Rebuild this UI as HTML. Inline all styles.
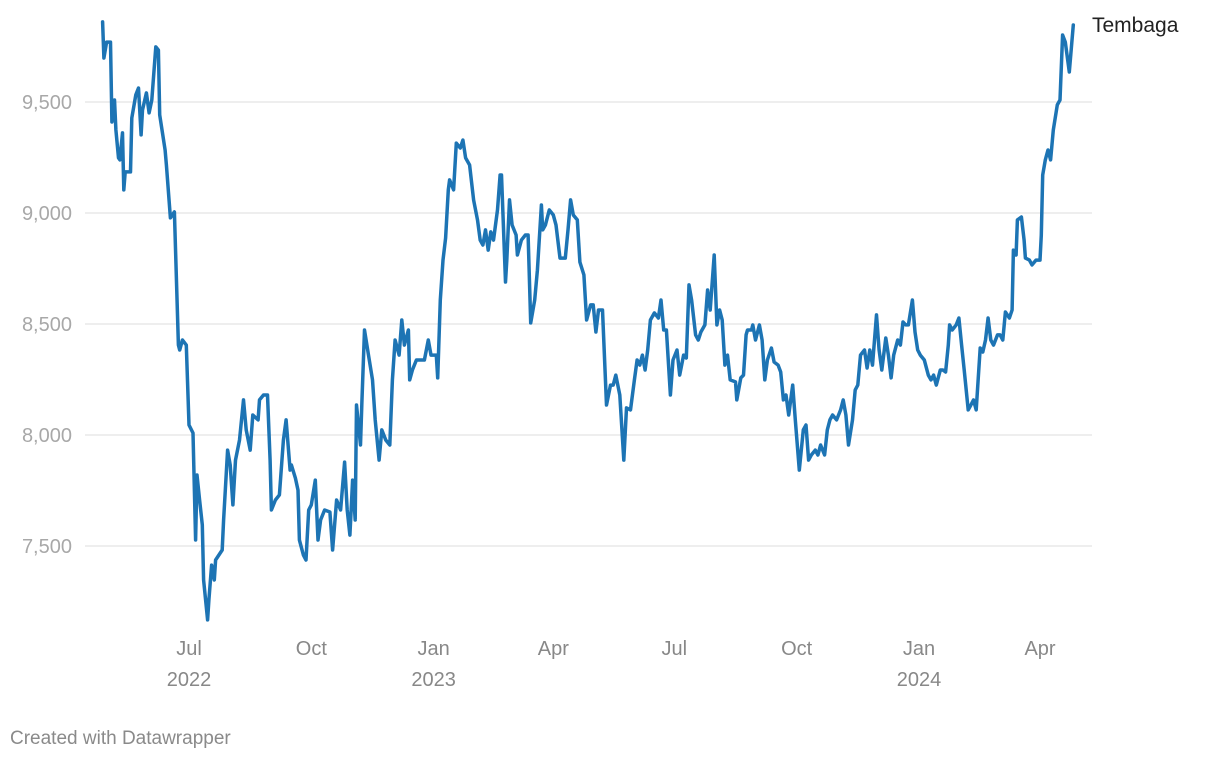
<!DOCTYPE html>
<html><head><meta charset="utf-8">
<style>
html,body{margin:0;padding:0;background:#fff;width:1220px;height:760px;overflow:hidden;font-family:"Liberation Sans",sans-serif;}
svg{display:block}
</style></head>
<body>
<svg id="chart" width="1220" height="760" xmlns="http://www.w3.org/2000/svg">
<g id="grid"></g>
<g id="yticks"></g>
<g id="xticks"></g>
<path id="line" fill="none" stroke="#1d74b4" stroke-width="3.5" stroke-linejoin="round" stroke-linecap="round"></path>
<text x="1092" y="32" font-size="21" fill="#222">Tembaga</text>
<text x="10" y="744" font-size="19" fill="#8a8a8a">Created with Datawrapper</text>
</svg>
<script>
// days since 2022-07-01
const days = [-65,-64,-62,-59,-58,-56,-55,-53,-52,-50,-49,-48,-44,-43,-40,-38,-36,-35,-32,-30,-28,-25,-23,-22,-18,-17,-14,-11,-8,-7,-5,-2,0,3,5,6,8,10,11,14,15,17,19,20,25,26,29,31,33,35,38,41,43,46,48,52,53,56,59,61,62,65,68,71,73,76,77,80,82,83,86,88,90,92,95,97,99,102,106,108,111,114,117,119,121,123,125,126,129,130,132,135,138,140,143,145,148,151,153,155,158,160,162,165,166,168,171,177,180,182,186,187,189,191,193,195,196,199,201,204,206,208,211,214,217,219,221,223,225,227,229,232,234,235,238,239,241,243,246,247,250,253,255,257,260,262,265,266,268,271,274,276,279,283,285,287,289,292,294,297,299,302,304,306,308,311,314,317,319,321,324,327,329,332,335,337,339,341,343,345,347,350,353,355,357,359,362,364,367,369,372,374,376,378,381,383,385,388,390,392,395,397,399,401,403,405,407,411,412,415,417,419,420,423,424,426,429,431,433,435,438,440,443,445,447,449,451,454,456,459,462,464,466,468,471,473,475,478,480,482,484,487,490,492,494,496,499,501,503,505,508,510,512,514,517,519,521,524,526,528,530,533,535,537,539,541,544,546,548,550,553,556,558,560,562,565,567,569,571,572,574,577,579,581,583,586,588,590,592,595,597,599,601,603,605,608,610,612,614,617,619,620,622,623,626,628,629,632,634,637,640,641,642,644,646,648,650,653,655,657,659,662,665];
const values = [9861,9698,9770,9770,9410,9509,9374,9248,9239,9361,9104,9185,9185,9428,9532,9563,9352,9464,9541,9451,9509,9748,9734,9442,9284,9216,8978,9005,8405,8383,8428,8405,8045,8009,7527,7820,7707,7595,7347,7167,7257,7414,7347,7437,7482,7617,7932,7865,7685,7887,7977,8158,8023,7932,8090,8068,8158,8180,8180,7887,7662,7707,7730,7977,8068,7842,7865,7806,7752,7527,7459,7437,7662,7685,7797,7527,7617,7662,7653,7482,7707,7662,7878,7662,7549,7797,7617,8135,7955,8149,8473,8360,8248,8068,7887,8023,7977,7955,8248,8428,8360,8518,8405,8473,8248,8293,8338,8338,8428,8360,8360,8257,8608,8788,8887,9104,9149,9104,9315,9293,9329,9248,9216,9059,8969,8878,8856,8924,8833,8915,8878,9014,9171,9171,8689,8788,9059,8946,8901,8811,8878,8901,8901,8505,8608,8743,9036,8924,8946,9014,8991,8946,8797,8797,8924,9059,8991,8969,8779,8721,8518,8586,8586,8464,8563,8563,8135,8225,8225,8270,8180,7887,8122,8113,8248,8338,8315,8360,8293,8383,8518,8550,8527,8608,8473,8473,8180,8338,8383,8270,8360,8347,8676,8608,8451,8428,8464,8496,8653,8563,8811,8496,8563,8518,8315,8360,8248,8239,8158,8257,8270,8451,8473,8473,8496,8428,8496,8428,8248,8338,8392,8329,8315,8284,8158,8180,8090,8225,8068,7842,8023,8045,7887,7910,7932,7910,7955,7910,8023,8068,8090,8068,8113,8158,8090,7955,8068,8203,8225,8360,8383,8302,8383,8315,8541,8383,8293,8437,8360,8257,8360,8428,8405,8509,8496,8496,8608,8464,8383,8360,8338,8270,8248,8270,8225,8293,8293,8284,8405,8496,8473,8496,8527,8405,8293,8113,8135,8158,8113,8392,8374,8428,8527,8428,8405,8451,8451,8428,8554,8527,8563,8833,8811,8969,8982,8878,8797,8788,8766,8788,8788,8901,9171,9239,9284,9239,9374,9487,9509,9802,9770,9635,9847];
const yTicks = [7500,8000,8500,9000,9500];
const xTickDays = [0,92,184,274,365,457,549,640];
const xTickMonths = ["Jul","Oct","Jan","Apr","Jul","Oct","Jan","Apr"];
const xTickYears = ["2022","","2023","","","","2024",""];

const NS="http://www.w3.org/2000/svg";
function xScale(d){return 189 + d*1.3297;}
function yScale(v){return 435 - (v-8000)*0.222;}

const grid=document.getElementById('grid'), yt=document.getElementById('yticks'), xt=document.getElementById('xticks');
yTicks.forEach(v=>{
  const l=document.createElementNS(NS,'line');
  
  
  l.setAttribute('x1',85);l.setAttribute('x2',1092);
  l.setAttribute('y1',yScale(v));l.setAttribute('y2',yScale(v));
  l.setAttribute('stroke','#dddddd');l.setAttribute('stroke-width','1');
  grid.appendChild(l);
  const t=document.createElementNS(NS,'text');
  
  
  t.setAttribute('x',72);t.setAttribute('y',yScale(v)+7);
  t.setAttribute('text-anchor','end');t.setAttribute('font-size','20');t.setAttribute('fill','#a8a8a8');
  t.textContent=v.toLocaleString('en-US');
  yt.appendChild(t);
});
xTickDays.forEach((d,i)=>{
  const t=document.createElementNS(NS,'text');
  
  
  t.setAttribute('x',xScale(d));t.setAttribute('y',655);
  t.setAttribute('text-anchor','middle');t.setAttribute('font-size','20');t.setAttribute('fill','#888');
  t.textContent=xTickMonths[i];
  xt.appendChild(t);
  if(xTickYears[i]){
    const y=document.createElementNS(NS,'text');
    
    
    y.setAttribute('x',xScale(d));y.setAttribute('y',686);
    y.setAttribute('text-anchor','middle');y.setAttribute('font-size','20');y.setAttribute('fill','#888');
    y.textContent=xTickYears[i];
    xt.appendChild(y);
  }
});
let dstr='';
days.forEach((d,i)=>{dstr+=(i?'L':'M')+xScale(d).toFixed(1)+','+yScale(values[i]).toFixed(1);});
document.getElementById('line').setAttribute('d',dstr);
</script>
</body></html>
